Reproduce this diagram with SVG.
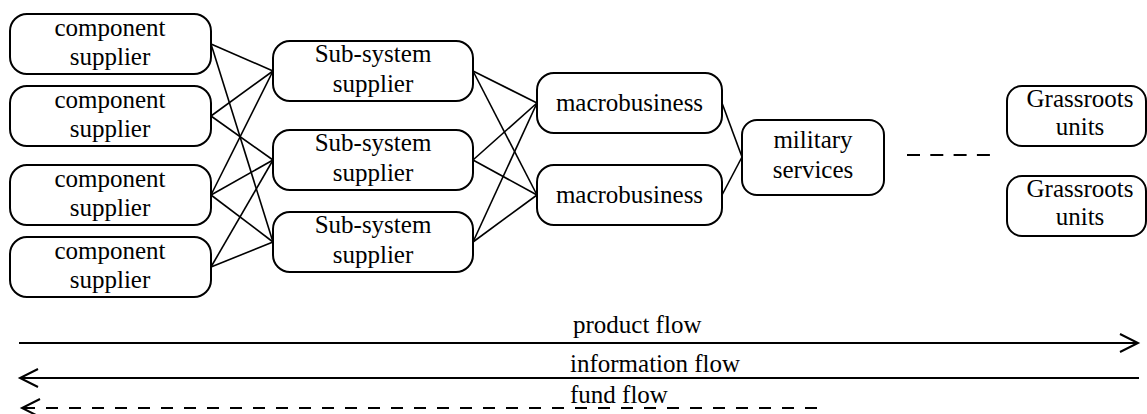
<svg xmlns="http://www.w3.org/2000/svg" width="1147" height="414" viewBox="0 0 1147 414">
<style>
.box{fill:#fff;stroke:#000;stroke-width:2}
text{font-family:'Liberation Serif','DejaVu Serif',serif;font-size:25px;fill:#000}
.t{text-anchor:middle}
.e{stroke:#000;stroke-width:1.6;fill:none}
.f{stroke:#000;stroke-width:2;fill:none}
.d{stroke:#000;stroke-width:2;fill:none;stroke-dasharray:12 11}
.ah{stroke:#000;stroke-width:2;fill:none;stroke-linejoin:miter}
</style>
<rect width="1147" height="414" fill="#fff"/>
<g id="connectors">
<line class="e" x1="211" y1="44" x2="273" y2="71"/>
<line class="e" x1="211" y1="44" x2="273" y2="242"/>
<line class="e" x1="211" y1="116" x2="273" y2="71"/>
<line class="e" x1="211" y1="116" x2="273" y2="160"/>
<line class="e" x1="211" y1="195" x2="273" y2="71"/>
<line class="e" x1="211" y1="195" x2="273" y2="160"/>
<line class="e" x1="211" y1="195" x2="273" y2="242"/>
<line class="e" x1="211" y1="267" x2="273" y2="160"/>
<line class="e" x1="211" y1="267" x2="273" y2="242"/>
<line class="e" x1="473" y1="71" x2="537" y2="103"/>
<line class="e" x1="473" y1="71" x2="537" y2="195"/>
<line class="e" x1="473" y1="160" x2="537" y2="103"/>
<line class="e" x1="473" y1="160" x2="537" y2="195"/>
<line class="e" x1="473" y1="242" x2="537" y2="103"/>
<line class="e" x1="473" y1="242" x2="537" y2="195"/>
<line class="e" x1="722" y1="103" x2="742" y2="157"/>
<line class="e" x1="722" y1="195" x2="742" y2="157"/>
<line class="f" x1="907" y1="155" x2="990" y2="155" style="stroke-dasharray:13 10.3"/>
</g>
<g id="comp1"><rect class="box" x="10" y="14" width="201" height="60" rx="17"/><text class="t" x="110" y="36">component</text><text class="t" x="110" y="65">supplier</text></g>
<g id="comp2"><rect class="box" x="10" y="86" width="201" height="60" rx="17"/><text class="t" x="110" y="108">component</text><text class="t" x="110" y="137">supplier</text></g>
<g id="comp3"><rect class="box" x="10" y="165" width="201" height="60" rx="17"/><text class="t" x="110" y="187">component</text><text class="t" x="110" y="216">supplier</text></g>
<g id="comp4"><rect class="box" x="10" y="237" width="201" height="60" rx="17"/><text class="t" x="110" y="259">component</text><text class="t" x="110" y="288">supplier</text></g>
<g id="sub1"><rect class="box" x="273" y="41" width="200" height="60" rx="17"/><text class="t" x="373" y="62">Sub-system</text><text class="t" x="373" y="92">supplier</text></g>
<g id="sub2"><rect class="box" x="273" y="130" width="200" height="60" rx="17"/><text class="t" x="373" y="151">Sub-system</text><text class="t" x="373" y="181">supplier</text></g>
<g id="sub3"><rect class="box" x="273" y="212" width="200" height="60" rx="17"/><text class="t" x="373" y="233">Sub-system</text><text class="t" x="373" y="263">supplier</text></g>
<g id="macro1"><rect class="box" x="537" y="73" width="185" height="60" rx="17"/><text class="t" x="629.5" y="111">macrobusiness</text></g>
<g id="macro2"><rect class="box" x="537" y="165" width="185" height="60" rx="17"/><text class="t" x="629.5" y="203">macrobusiness</text></g>
<g id="military"><rect class="box" x="742" y="120" width="142" height="75" rx="15"/><text class="t" x="813" y="148">military</text><text class="t" x="813" y="178">services</text></g>
<g id="grass1"><rect class="box" x="1007" y="86" width="139" height="60" rx="15"/><text class="t" x="1080" y="107">Grassroots</text><text class="t" x="1080" y="135">units</text></g>
<g id="grass2"><rect class="box" x="1007" y="176" width="139" height="60" rx="15"/><text class="t" x="1080" y="197">Grassroots</text><text class="t" x="1080" y="225">units</text></g>
<g id="flows">
<line class="f" x1="19" y1="343" x2="1137" y2="343"/>
<polyline class="ah" points="1120,334 1138,343 1120,352"/>
<text x="573" y="333">product flow</text>
<line class="f" x1="21" y1="378" x2="1139" y2="378"/>
<polyline class="ah" points="38,369 20,378 38,387"/>
<text x="570" y="372">information flow</text>
<line class="d" x1="23" y1="408" x2="827" y2="408"/>
<polyline class="ah" points="40,399 22,408 40,417"/>
<text x="570" y="403">fund flow</text>
</g>
</svg>
